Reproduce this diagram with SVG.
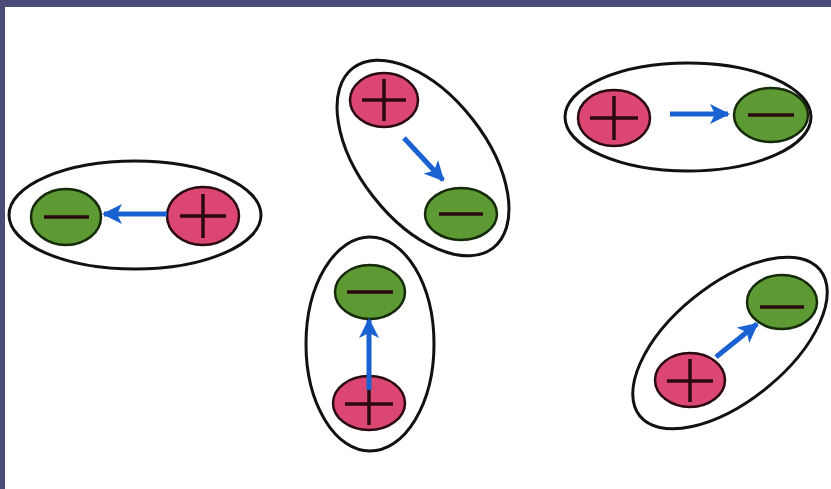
<svg xmlns="http://www.w3.org/2000/svg" width="831" height="489" viewBox="0 0 831 489">
<style>
.shell{fill:#fff;stroke:#111;stroke-width:3}
.pos{fill:#dc4672;stroke:#2a0a12;stroke-width:2.5}
.neg{fill:#5e9a34;stroke:#142a08;stroke-width:2.5}
.sign{stroke:#2a0a10;stroke-width:3.5;stroke-linecap:butt;fill:none}
.arrow{stroke:#1a62d2;stroke-width:5;fill:none;marker-end:url(#ah)}
</style>
<defs>
<marker id="ah" viewBox="0 0 10 10" refX="9" refY="5" markerWidth="4" markerHeight="4" orient="auto" markerUnits="strokeWidth">
<path d="M0,0 L10,5 L0,10 L2.5,5 Z" fill="#1a62d2"/>
</marker>
</defs>
<rect x="0" y="0" width="831" height="489" fill="#4a4b76"/>
<rect x="5" y="7" width="826" height="482" fill="#ffffff"/>

<g id="dipole-left">
<ellipse class="shell" cx="135" cy="215" rx="126" ry="54"/>
<ellipse class="neg" cx="66" cy="217" rx="35" ry="28"/>
<path class="sign" d="M44,217 H89"/>
<ellipse class="pos" cx="203" cy="216" rx="36" ry="29"/>
<path class="sign" d="M180,216 H226 M203,194 V238"/>
</g>

<g id="dipole-top-middle">
<ellipse class="shell" cx="423" cy="158" rx="114" ry="63" transform="rotate(52 423 158)"/>
<ellipse class="pos" cx="384" cy="100" rx="34" ry="27"/>
<path class="sign" d="M362,100 H406 M384,79 V121"/>
<ellipse class="neg" cx="461" cy="214" rx="36" ry="26"/>
<path class="sign" d="M439,214 H483"/>
</g>

<g id="dipole-top-right">
<ellipse class="shell" cx="688" cy="117" rx="123" ry="54"/>
<ellipse class="pos" cx="614" cy="118" rx="36" ry="28"/>
<path class="sign" d="M590,118 H638 M614,96 V140"/>
<ellipse class="neg" cx="771" cy="115" rx="37" ry="27"/>
<path class="sign" d="M748,115 H794" stroke-width="2.5"/>
</g>

<g id="dipole-bottom-middle">
<ellipse class="shell" cx="370" cy="344" rx="64" ry="107"/>
<ellipse class="neg" cx="370" cy="292" rx="35" ry="27"/>
<path class="sign" d="M347,292 H393"/>
<ellipse class="pos" cx="369" cy="403" rx="36" ry="27"/>
<path class="sign" d="M345,404 H393 M369,382 V425"/>
</g>

<g id="dipole-bottom-right">
<ellipse class="shell" cx="730" cy="343" rx="116" ry="58" transform="rotate(-39 730 343)"/>
<ellipse class="pos" cx="690" cy="380" rx="35" ry="27"/>
<path class="sign" d="M667,381 H713 M690,359 V402"/>
<ellipse class="neg" cx="782" cy="302" rx="35" ry="27"/>
<path class="sign" d="M760,307 H804"/>
</g>

<g id="connectors">
<path class="arrow" d="M167,214 H104"/>
<path class="arrow" d="M404,138 L443,180"/>
<path class="arrow" d="M670,114 H728"/>
<path class="arrow" d="M369,390 V320"/>
<path class="arrow" d="M716,357 L757,324"/>
</g>
</svg>
